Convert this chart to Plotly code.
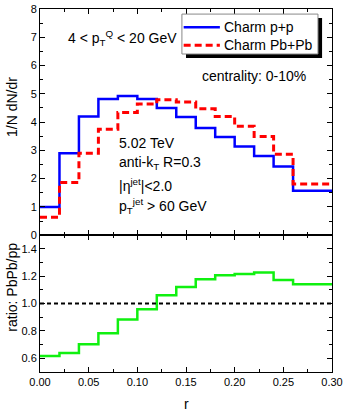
import plotly.graph_objects as go

# ---- data ----
r_low = [0.00, 0.02, 0.04, 0.06, 0.08, 0.10, 0.12, 0.14, 0.16, 0.18, 0.20, 0.22, 0.24, 0.26, 0.28]
r_max = 0.30
pp = [1.00, 2.90, 4.20, 4.82, 4.92, 4.82, 4.50, 4.18, 3.79, 3.47, 3.14, 2.80, 2.43, 1.57, 1.57]
pbpb = [0.63, 1.86, 2.90, 3.75, 4.34, 4.64, 4.79, 4.71, 4.47, 4.20, 3.85, 3.49, 2.86, 1.81, 1.81]
ratio = [0.617, 0.639, 0.702, 0.783, 0.883, 0.959, 1.061, 1.122, 1.178, 1.207, 1.217, 1.227, 1.173, 1.141, 1.141]
ref_level = 1.0
series_names = ["Charm p+p", "Charm Pb+Pb"]

x_tickvals = [0.00, 0.05, 0.10, 0.15, 0.20, 0.25, 0.30]
y1_tickvals = [0, 1, 2, 3, 4, 5, 6, 7, 8]
y2_tickvals = [0.6, 0.8, 1.0, 1.2, 1.4]

edges = r_low + [r_max]
def step(v):
    return v + [v[-1]]

FONT = "Liberation Sans, Arial, sans-serif"
BLUE = "#0000ff"
RED = "#ff0000"
RED_DASH = "7px,4px"

fig = go.Figure()
fig.add_trace(go.Scatter(x=edges, y=step(pp), mode="lines", line_shape="hv",
                         line=dict(color=BLUE, width=2.5), name=series_names[0],
                         xaxis="x", yaxis="y"))
fig.add_trace(go.Scatter(x=edges, y=step(pbpb), mode="lines", line_shape="hv",
                         line=dict(color=RED, width=3, dash=RED_DASH), name=series_names[1],
                         xaxis="x", yaxis="y"))
fig.add_trace(go.Scatter(x=edges, y=step(ratio), mode="lines", line_shape="hv",
                         line=dict(color="#10f010", width=2.5), showlegend=False,
                         xaxis="x2", yaxis="y2"))
fig.add_trace(go.Scatter(x=[edges[0], edges[-1]], y=[ref_level, ref_level], mode="lines",
                         line=dict(color="black", width=2, dash="4px,3px"), showlegend=False,
                         xaxis="x2", yaxis="y2"))

axis_common = dict(showline=True, linecolor="black", linewidth=1, mirror="allticks",
                   ticks="inside", ticklen=5, tickcolor="black", showgrid=False, zeroline=False,
                   ticklabeloverflow="allow", automargin=False,
                   tickfont=dict(family=FONT, size=11, color="black"))

split = 0.377
fig.update_layout(
    width=346, height=415,
    margin=dict(l=40, r=14, t=9, b=43, autoexpand=False),
    paper_bgcolor="white", plot_bgcolor="white",
    font=dict(family=FONT, size=14, color="black"),
    showlegend=False,
    xaxis=dict(domain=[0, 1], anchor="y", range=[0, r_max], tickvals=x_tickvals,
               showticklabels=False, minor=dict(ticks="inside", dtick=0.025, ticklen=3, tickcolor="black"),
               **axis_common),
    yaxis=dict(domain=[split, 1], anchor="x", range=[0, 8], tickvals=y1_tickvals,
               minor=dict(ticks="inside", dtick=0.5, ticklen=3, tickcolor="black"),
               **axis_common),
    xaxis2=dict(domain=[0, 1], anchor="y2", range=[0, r_max],
                tickvals=x_tickvals, tickformat=".2f",
                minor=dict(ticks="inside", dtick=0.025, ticklen=3, tickcolor="black"),
                **axis_common),
    yaxis2=dict(domain=[0, split], anchor="x2", range=[0.5, 1.5], tickvals=y2_tickvals,
                tickformat=".1f",
                minor=dict(ticks="inside", dtick=0.1, ticklen=3, tickcolor="black"),
                **axis_common),
)

# ---- legend box (with drop shadow), drawn in paper coordinates ----
fig.add_shape(type="rect", xref="paper", yref="paper", x0=0.500, x1=0.966, y0=0.865, y1=0.975,
              fillcolor="black", line=dict(width=0), layer="above")
fig.add_shape(type="rect", xref="paper", yref="paper", x0=0.486, x1=0.952, y0=0.876, y1=0.986,
              fillcolor="white", line=dict(color="#888888", width=1), layer="above")
legend_rows = [(0.950, BLUE, "solid", 2.5), (0.900, RED, RED_DASH, 3)]
for (yy, col, dsh, w), name in zip(legend_rows, series_names):
    fig.add_shape(type="line", xref="paper", yref="paper", x0=0.492, x1=0.616, y0=yy, y1=yy,
                  line=dict(color=col, width=w, dash=dsh), layer="above")
    fig.add_annotation(x=0.622, y=yy, xref="paper", yref="paper", text=name,
                       xanchor="left", yanchor="middle", showarrow=False,
                       font=dict(family=FONT, size=14, color="black"))

ann_font = dict(family=FONT, size=14, color="black")
fig.add_annotation(x=-0.096, y=0.73, xref="paper", yref="paper", text="1/N dN/dr",
                   textangle=-90, showarrow=False, font=ann_font, xanchor="center", yanchor="middle")
fig.add_annotation(x=-0.096, y=0.235, xref="paper", yref="paper", text="ratio: PbPb/pp",
                   textangle=-90, showarrow=False, font=ann_font, xanchor="center", yanchor="middle")
fig.add_annotation(x=0.5, y=-0.088, xref="paper", yref="paper", text="r",
                   showarrow=False, font=ann_font, xanchor="center", yanchor="middle")

fig.add_annotation(x=0.0267, y=6.97, xref="x", yref="y", text="4 < p<sub>T</sub><sup>Q</sup> < 20 GeV",
                   xanchor="left", yanchor="middle", showarrow=False, font=ann_font)
fig.add_annotation(x=0.164, y=5.63, xref="x", yref="y", text="centrality: 0-10%",
                   xanchor="left", yanchor="middle", showarrow=False, font=ann_font)
for yv, txt in [(3.26, "5.02 TeV"), (2.55, "anti-k<sub>T</sub> R=0.3"),
                (1.77, "|η<sup>jet</sup>|<2.0"), (1.03, "p<sub>T</sub><sup>jet</sup> > 60 GeV")]:
    fig.add_annotation(x=0.079, y=yv, xref="x", yref="y", text=txt,
                       xanchor="left", yanchor="middle", showarrow=False, font=ann_font)

fig.write_html("out.html", config={"displayModeBar": False},
               post_script="document.body.style.margin='0';document.body.style.overflow='hidden';")
